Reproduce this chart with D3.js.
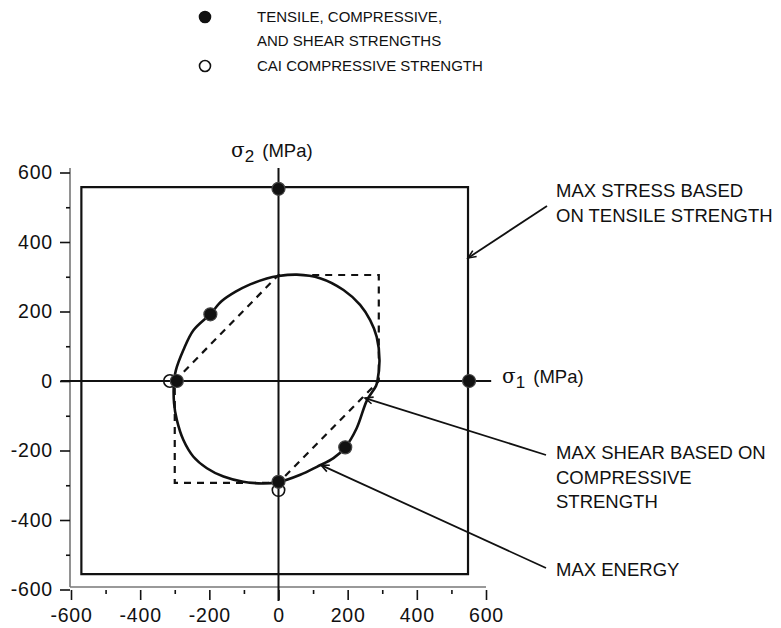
<!DOCTYPE html>
<html>
<head>
<meta charset="utf-8">
<script src="https://cdn.jsdelivr.net/npm/d3@7"></script>
<style>
body { margin: 0; background: #fff; }
text { font-family: "Liberation Sans", Arial, sans-serif; fill: #111; }
</style>
</head>
<body>
<svg id="chart" width="781" height="628"></svg>
<script>
// stress axis ticks (MPa)
var tickValues  = [-600, -400, -200, 0, 200, 400, 600];
var minorTicks  = [-500, -300, -100, 100, 300, 500];

// measured strengths [sigma1, sigma2]
var strengthPoints = [[0, 553], [551, 0], [-294, 0], [0, -290], [-197, 192], [193, -191]];
var caiPoints      = [[-314, 0], [0, -314]];

// failure envelopes
var maxStressBox = [[-570, -556], [548, -556], [548, 558], [-570, 558]];
var maxShear     = [[-300, 0], [0, 305], [290, 305], [290, 0], [0, -293], [-300, -293]];
var maxEnergy    = [[286, 0], [292, 60], [284, 127], [265, 175], [236, 219], [188, 262], [120, 296],
                    [53, 306], [0, 302], [-34, 295], [-82, 278], [-124, 257], [-164, 230], [-198, 192],
                    [-246, 146], [-275, 89], [-297, 30], [-302, 0], [-302, -64], [-294, -112],
                    [-275, -170], [-246, -218], [-207, -251], [-159, -275], [-102, -290], [-44, -295],
                    [0, -291], [63, -270], [111, -247], [159, -222], [193, -191], [226, -136],
                    [256, -55], [282, -14]];

var svg = d3.select("#chart");

var x = d3.scaleLinear().domain([-600, 600]).range([71, 486]);
var y = d3.scaleLinear().domain([-600, 600]).range([589.5, 172.5]);

// arrow head for leader lines
svg.append("defs").append("marker")
    .attr("id", "arrow")
    .attr("markerUnits", "userSpaceOnUse")
    .attr("markerWidth", 20).attr("markerHeight", 20)
    .attr("viewBox", "-10 -10 20 20")
    .attr("orient", "auto-start-reverse")
    .append("path")
    .attr("d", "M-8,-3.5L0,0L-8,3.5")
    .attr("fill", "none").attr("stroke", "#111").attr("stroke-width", 1.6);

// frame axes (gray lines)
svg.append("line").attr("x1", 70).attr("x2", 70).attr("y1", 168).attr("y2", 587)
    .attr("stroke", "#777").attr("stroke-width", 1.6);
svg.append("line").attr("x1", 70).attr("x2", x(600)).attr("y1", 587).attr("y2", 587)
    .attr("stroke", "#777").attr("stroke-width", 1.6);

var plain = function(d) { return String(d); };   // hyphen minus, like the original

var yAxis = svg.append("g").attr("transform", "translate(70,0)")
    .call(d3.axisLeft(y).tickValues(tickValues).tickSize(10).tickPadding(7).tickFormat(plain));
var yMinor = svg.append("g").attr("transform", "translate(70,0)")
    .call(d3.axisLeft(y).tickValues(minorTicks).tickSize(4).tickFormat(""));
var xAxis = svg.append("g").attr("transform", "translate(0,590)")
    .call(d3.axisBottom(x).tickValues(tickValues).tickSize(10).tickPadding(8).tickFormat(plain));
var xMinor = svg.append("g").attr("transform", "translate(0,590)")
    .call(d3.axisBottom(x).tickValues(minorTicks).tickSize(4).tickFormat(""));

[yAxis, yMinor, xAxis, xMinor].forEach(function(g) {
  g.select(".domain").remove();
  g.selectAll(".tick line").attr("stroke", "#111").attr("stroke-width", 1.6);
  g.selectAll("text")
    .style("font-family", "'Liberation Sans', Arial, sans-serif")
    .style("font-size", "19.5px")
    .style("letter-spacing", "0.8px")
    .attr("fill", "#111");
});

// sigma axes through origin
svg.append("line").attr("x1", x(-630)).attr("x2", x(615)).attr("y1", y(0)).attr("y2", y(0))
    .attr("stroke", "#111").attr("stroke-width", 2);
svg.append("line").attr("x1", x(0)).attr("x2", x(0)).attr("y1", y(613)).attr("y2", y(-633))
    .attr("stroke", "#111").attr("stroke-width", 2);

// envelopes
var lineClosed = d3.line().x(function(d) { return x(d[0]); }).y(function(d) { return y(d[1]); })
    .curve(d3.curveLinearClosed);

svg.append("path").datum(maxStressBox).attr("d", lineClosed)
    .attr("fill", "none").attr("stroke", "#111").attr("stroke-width", 2.2);

svg.append("path").datum(maxShear).attr("d", lineClosed)
    .attr("fill", "none").attr("stroke", "#111").attr("stroke-width", 2.2)
    .attr("stroke-dasharray", "7,6");

svg.append("path").datum(maxEnergy)
    .attr("d", d3.line().x(function(d) { return x(d[0]); }).y(function(d) { return y(d[1]); })
      .curve(d3.curveCatmullRomClosed.alpha(0.5)))
    .attr("fill", "none").attr("stroke", "#111").attr("stroke-width", 2.6);

// data points
svg.selectAll("circle.cai").data(caiPoints).enter().append("circle")
    .attr("class", "cai")
    .attr("cx", function(d) { return x(d[0]); }).attr("cy", function(d) { return y(d[1]); })
    .attr("r", 6.2).attr("fill", "none").attr("stroke", "#111").attr("stroke-width", 1.6);

svg.selectAll("circle.str").data(strengthPoints).enter().append("circle")
    .attr("class", "str")
    .attr("cx", function(d) { return x(d[0]); }).attr("cy", function(d) { return y(d[1]); })
    .attr("r", 6.5).attr("fill", "#111").attr("stroke", "#444").attr("stroke-width", 1.2);

// axis titles
function sigmaLabel(px, py, sub) {
  var t = svg.append("text").attr("x", px).attr("y", py).style("font-size", "18.5px");
  t.append("tspan").text("σ").style("font-family", "'DejaVu Serif', serif").style("font-size", "20px");
  t.append("tspan").text(sub).attr("dy", 5).style("font-size", "17px");
  t.append("tspan").text(" (MPa)").attr("dy", -5).attr("dx", 3);
}
sigmaLabel(231, 157, "2");
sigmaLabel(502, 383, "1");

// annotations with leaders (tip in data units, label anchor in pixels)
var notes = [
  { lines: ["MAX STRESS BASED", "ON TENSILE STRENGTH"], tx: 556, ty: 197, tip: [548, 354], from: [547, 206] },
  { lines: ["MAX SHEAR BASED ON", "COMPRESSIVE", "STRENGTH"], tx: 556, ty: 459, tip: [250, -49], from: [546, 455] },
  { lines: ["MAX ENERGY"], tx: 556, ty: 576, tip: [123, -242], from: [546, 568] }
];

notes.forEach(function(n) {
  svg.append("line")
    .attr("x1", x(n.tip[0])).attr("y1", y(n.tip[1]))
    .attr("x2", n.from[0]).attr("y2", n.from[1])
    .attr("stroke", "#111").attr("stroke-width", 1.8)
    .attr("marker-start", "url(#arrow)");
  svg.append("text").attr("x", n.tx).attr("y", n.ty).style("font-size", "18.5px")
    .selectAll("tspan").data(n.lines).enter().append("tspan")
    .attr("x", n.tx).attr("dy", function(d, i) { return i ? 24.5 : 0; })
    .text(function(d) { return d; });
});

// legend
var legend = [
  { lines: ["TENSILE, COMPRESSIVE,", "AND SHEAR STRENGTHS"], filled: true, y: 22 },
  { lines: ["CAI COMPRESSIVE STRENGTH"], filled: false, y: 71 }
];
legend.forEach(function(l) {
  svg.append("circle").attr("cx", 205).attr("cy", l.y - 5).attr("r", 5.5)
    .attr("fill", l.filled ? "#111" : "none").attr("stroke", "#111").attr("stroke-width", 1.6);
  svg.append("text").attr("x", 257).attr("y", l.y).style("font-size", "15px")
    .selectAll("tspan").data(l.lines).enter().append("tspan")
    .attr("x", 257).attr("dy", function(d, i) { return i ? 24 : 0; })
    .text(function(d) { return d; });
});
</script>
</body>
</html>
